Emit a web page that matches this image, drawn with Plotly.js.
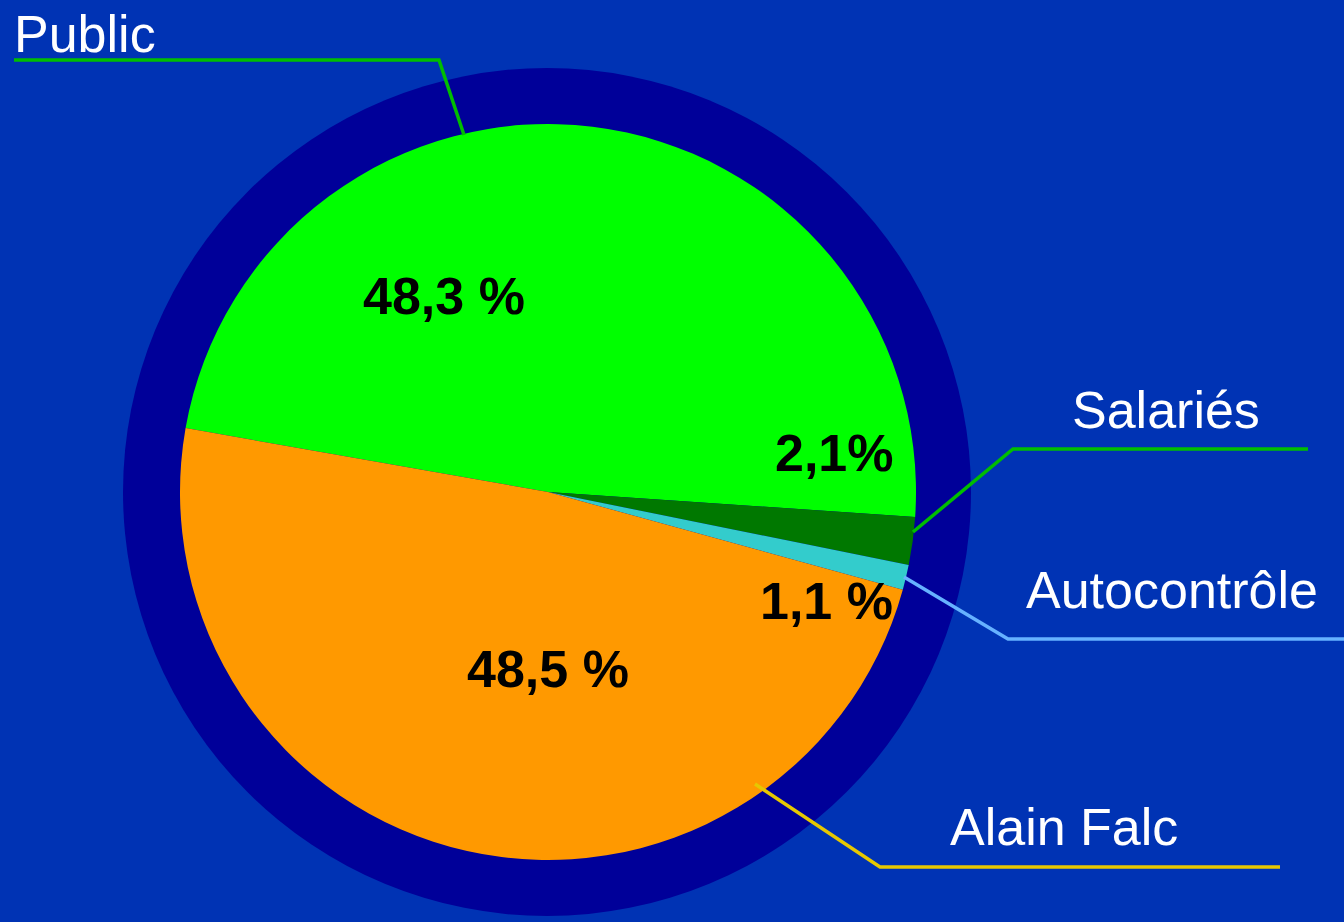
<!DOCTYPE html>
<html>
<head>
<meta charset="utf-8">
<script src="https://cdn.plot.ly/plotly-3.0.1.min.js"></script>
<style>
  html, body { margin: 0; padding: 0; background: #0033B4; }
  #chart { width: 1344px; height: 922px; }
</style>
</head>
<body>
<div id="chart"></div>
<script>
// ---- data ----
const categories = ["Public", "Salariés", "Autocontrôle", "Alain Falc"];
const shares = [48.3, 2.1, 1.1, 48.5];
const shareLabels = ["48,3 %", "2,1%", "1,1 %", "48,5 %"];
const sliceColors = ["#00FF00", "#007800", "#33CCCC", "#FF9900"];
const leaderColors = ["#00BE00", "#00BE00", "#66B2FF", "#E6C800"];

// ---- helpers (pixel -> paper) ----
const W = 1344, H = 922;
const px = x => x / W;
const py = y => 1 - y / H;

// layout geometry (pixels)
const pieC = [548, 492], pieR = 368;
const ringC = [547, 492], ringR = 424;

const ringTrace = {
  type: "pie",
  values: [1],
  labels: ["ring"],
  marker: { colors: ["#000099"] },
  textinfo: "none",
  hoverinfo: "skip",
  sort: false,
  showlegend: false,
  domain: {
    x: [px(ringC[0] - ringR), px(ringC[0] + ringR)],
    y: [py(ringC[1] + ringR), py(ringC[1] - ringR)]
  }
};

const pieTrace = {
  type: "pie",
  labels: categories,
  values: shares,
  marker: { colors: sliceColors, line: { width: 0 } },
  textinfo: "none",
  sort: false,
  direction: "clockwise",
  rotation: -80,
  showlegend: false,
  domain: {
    x: [px(pieC[0] - pieR), px(pieC[0] + pieR)],
    y: [py(pieC[1] + pieR), py(pieC[1] - pieR)]
  }
};

// label placements (pixels)
const catPos = [[12, 34], [1070, 410], [1024, 590], [948, 827]];
const pctPos = [[444, 296], [834, 453], [826, 601], [548, 669]];
const leaderPts = [
  [[14, 60], [439, 60], [464, 135]],
  [[1308, 449], [1013, 449], [913, 532]],
  [[904, 577], [1008, 639], [1344, 639]],
  [[755, 784], [880, 867], [1280, 867]]
];

const font = "Liberation Sans, Arial, Helvetica, sans-serif";
const annotations = [];
categories.forEach((c, i) => {
  annotations.push({
    xref: "paper", yref: "paper",
    x: px(catPos[i][0]), y: py(catPos[i][1]),
    xanchor: "left", yanchor: "middle",
    text: c, showarrow: false,
    font: { family: font, size: 52, color: "#FFFFFF" }
  });
  annotations.push({
    xref: "paper", yref: "paper",
    x: px(pctPos[i][0]), y: py(pctPos[i][1]),
    xanchor: "center", yanchor: "middle",
    text: "<b>" + shareLabels[i] + "</b>", showarrow: false,
    font: { family: font, size: 52, color: "#000000" }
  });
});

const shapes = leaderPts.map((pts, i) => ({
  type: "path",
  xref: "paper", yref: "paper",
  path: pts.map((p, k) => (k ? "L" : "M") + px(p[0]) + "," + py(p[1])).join(" "),
  line: { color: leaderColors[i], width: 3.5 },
  layer: "above"
}));

const layout = {
  width: W, height: H,
  margin: { l: 0, r: 0, t: 0, b: 0 },
  paper_bgcolor: "#0033B4",
  plot_bgcolor: "#0033B4",
  showlegend: false,
  annotations: annotations,
  shapes: shapes
};

Plotly.newPlot("chart", [ringTrace, pieTrace], layout, { displayModeBar: false, staticPlot: true });
</script>
</body>
</html>
